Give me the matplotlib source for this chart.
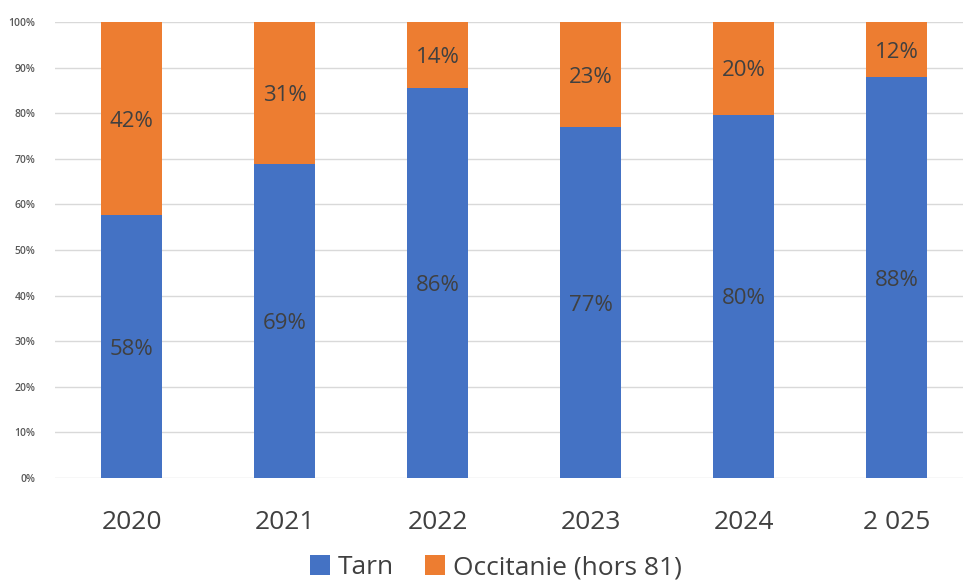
import matplotlib
matplotlib.use("Agg")
import matplotlib.pyplot as plt
import numpy as np

categories = ["2020", "2021", "2022", "2023", "2024", "2 025"]
tarn = [57.6, 68.9, 85.6, 76.9, 79.7, 87.9]
occitanie = [42.4, 31.1, 14.4, 23.1, 20.3, 12.1]
yticks = [0, 10, 20, 30, 40, 50, 60, 70, 80, 90, 100]

plt.rcParams['font.family'] = ['Open Sans', 'DejaVu Sans']

fig = plt.figure(figsize=(9.63, 5.83), dpi=100)
ax = fig.add_axes([55/963, 105/583, (963-55)/963, 456/583])

x = np.arange(len(categories))
w = 0.405
blue = "#4472C4"
orange = "#ED7D31"
b1 = ax.bar(x, tarn, w, color=blue, label="Tarn", zorder=3)
b2 = ax.bar(x, occitanie, w, bottom=tarn, color=orange, label="Occitanie (hors 81)", zorder=3)

for i in range(len(categories)):
    ax.text(x[i], tarn[i] / 2, f"{round(tarn[i]):d}%", ha="center", va="center_baseline",
            fontsize=16, color="#404040", zorder=4)
    ax.text(x[i], tarn[i] + occitanie[i] / 2, f"{round(occitanie[i]):d}%", ha="center",
            va="center_baseline", fontsize=16, color="#404040", zorder=4)

ax.set_ylim(0, 100)
ax.set_xlim(-0.5, -0.5 + (963 - 55) / 153)
ax.set_yticks(yticks)
ax.set_yticklabels([f"{t}%" for t in yticks], fontsize=7.5, color="#595959", fontweight="semibold")
ax.set_xticks(x)
ax.set_xticklabels(categories, fontsize=19, color="#404040")
ax.tick_params(axis="both", length=0)
ax.tick_params(axis="x", pad=23)
ax.tick_params(axis="y", pad=14)
ax.yaxis.grid(True, color="#d9d9d9", linewidth=1, zorder=0)
for s in ax.spines.values():
    s.set_visible(False)

fig.legend(handles=[b1, b2], loc="center", bbox_to_anchor=(0.515, 0.026), ncol=2,
           frameon=False, fontsize=19, handlelength=0.75, handleheight=0.75,
           handletextpad=0.3, columnspacing=1.2, labelcolor="#404040",
           borderpad=0.1)

fig.savefig("out.png", dpi=100)
